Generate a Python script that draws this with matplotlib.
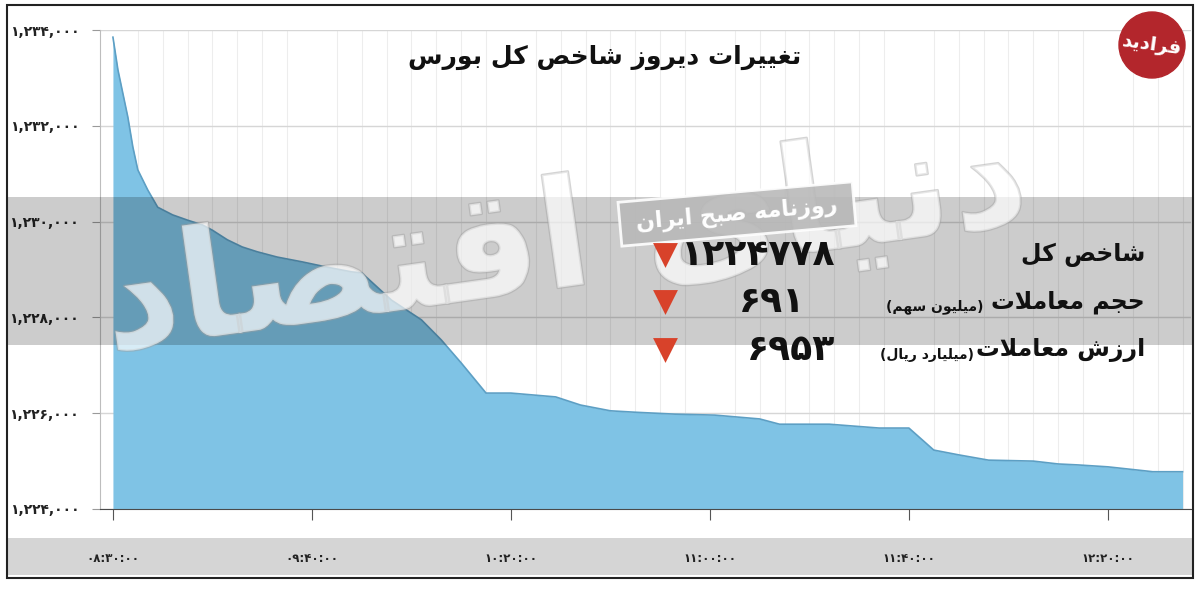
import matplotlib
matplotlib.use('Agg')
import matplotlib.pyplot as plt
import matplotlib.patheffects as pe
from matplotlib.patches import Rectangle, Circle, Polygon
from matplotlib.ticker import FuncFormatter, MultipleLocator
import numpy as np

# minutes since the first tick (08:30) and the index
minutes = [0, 1, 3, 4, 5, 7, 9, 12, 15, 18, 20, 23, 26, 29, 33, 38, 43, 48,
           50, 56, 62, 66, 70, 75, 80, 89, 94, 100, 105, 113, 121, 130, 134,
           144, 154, 160, 165, 170, 176, 185, 190, 194, 200, 208, 209, 215]
index_values = [1233850, 1233170, 1232180, 1231560, 1231080, 1230660, 1230300,
                1230140, 1230030, 1229930, 1229820, 1229620, 1229470, 1229370,
                1229260, 1229160, 1229050, 1228950, 1228930, 1228360, 1227950,
                1227530, 1227050, 1226420, 1226420, 1226340, 1226170, 1226050,
                1226020, 1225980, 1225960, 1225880, 1225770, 1225770, 1225690,
                1225690, 1225230, 1225130, 1225020, 1225000, 1224940, 1224920,
                1224880, 1224790, 1224778, 1224778]

x_tick_minutes = [0, 40, 80, 120, 160, 200]
x_tick_labels = ['08:30:00', '09:40:00', '10:20:00', '11:00:00', '11:40:00', '12:20:00']
y_ticks = [1224000, 1226000, 1228000, 1230000, 1232000, 1234000]

title = 'تغییرات دیروز شاخص کل بورس'
summary_names = ['شاخص کل', 'حجم معاملات', 'ارزش معاملات']
summary_units = ['', '(میلیون سهم)', '(میلیارد ریال)']
summary_values = ['1224778', '691', '6953']
source = 'روزنامه صبح ایران'
watermark = 'دنیای اقتصاد'
logo = 'فرادید'

# --- minimal arabic/persian shaping (matplotlib has no text shaping) ---
FORMS = {
    'ا': (0xFE8D, 0xFE8E), 'آ': (0xFE81, 0xFE82), 'د': (0xFEA9, 0xFEAA),
    'ذ': (0xFEAB, 0xFEAC), 'ر': (0xFEAD, 0xFEAE), 'ز': (0xFEAF, 0xFEB0),
    'ژ': (0xFB8A, 0xFB8B), 'و': (0xFEED, 0xFEEE),
    'ب': (0xFE8F, 0xFE90, 0xFE91, 0xFE92), 'پ': (0xFB56, 0xFB57, 0xFB58, 0xFB59),
    'ت': (0xFE95, 0xFE96, 0xFE97, 0xFE98), 'ج': (0xFE9D, 0xFE9E, 0xFE9F, 0xFEA0),
    'ح': (0xFEA1, 0xFEA2, 0xFEA3, 0xFEA4), 'خ': (0xFEA5, 0xFEA6, 0xFEA7, 0xFEA8),
    'س': (0xFEB1, 0xFEB2, 0xFEB3, 0xFEB4), 'ش': (0xFEB5, 0xFEB6, 0xFEB7, 0xFEB8),
    'ص': (0xFEB9, 0xFEBA, 0xFEBB, 0xFEBC), 'ع': (0xFEC9, 0xFECA, 0xFECB, 0xFECC),
    'غ': (0xFECD, 0xFECE, 0xFECF, 0xFED0), 'ف': (0xFED1, 0xFED2, 0xFED3, 0xFED4),
    'ق': (0xFED5, 0xFED6, 0xFED7, 0xFED8), 'ک': (0xFB8E, 0xFB8F, 0xFB90, 0xFB91),
    'ل': (0xFEDD, 0xFEDE, 0xFEDF, 0xFEE0), 'م': (0xFEE1, 0xFEE2, 0xFEE3, 0xFEE4),
    'ن': (0xFEE5, 0xFEE6, 0xFEE7, 0xFEE8), 'ه': (0xFEE9, 0xFEEA, 0xFEEB, 0xFEEC),
    'ی': (0xFBFC, 0xFBFD, 0xFBFE, 0xFBFF),
}
MIRROR = {'(': ')', ')': '('}


def shape(text):
    out = []
    i, n = 0, len(text)
    while i < n:
        c = text[i]
        if c not in FORMS:
            out.append(MIRROR.get(c, c))
            i += 1
            continue
        prev = text[i - 1] if i > 0 else ''
        joins_prev = prev in FORMS and len(FORMS[prev]) == 4
        if c == 'ل' and i + 1 < n and text[i + 1] == 'ا':
            out.append(chr(0xFEFC if joins_prev else 0xFEFB))
            i += 2
            continue
        nxt = text[i + 1] if i + 1 < n else ''
        joins_next = len(FORMS[c]) == 4 and nxt in FORMS
        f = FORMS[c]
        if joins_prev and joins_next:
            g = f[3]
        elif joins_prev:
            g = f[1]
        elif joins_next:
            g = f[2]
        else:
            g = f[0]
        out.append(chr(g))
        i += 1
    return ''.join(reversed(out))


FA_DIGITS = str.maketrans('0123456789', '۰۱۲۳۴۵۶۷۸۹')


def fa(s):
    return s.translate(FA_DIGITS)


plt.rcParams['font.family'] = ['DejaVu Sans']

W, H = 1200, 589
fig = plt.figure(figsize=(W / 100, H / 100), dpi=100)

# bottom gray strip behind the time labels
fig.add_artist(Rectangle((7 / W, 1 - 575 / H), 1186 / W, 37 / H,
                         transform=fig.transFigure, color='#d5d5d5', lw=0, zorder=-1))

ax = fig.add_axes([100 / W, 1 - 509 / H, 1091 / W, 479 / H])
ax.fill_between(minutes, index_values, 1224000, color='#7fc3e5', lw=0, zorder=2)
ax.plot(minutes, index_values, color='#5d9fc4', lw=1.2, zorder=3)
ax.set_xlim(-2.6, 216.7)
ax.set_ylim(1224000, 1234000)

ax.set_yticks(y_ticks)
ax.yaxis.set_major_formatter(FuncFormatter(lambda v, p: fa(f'{int(v):,}')))
ax.set_xticks(x_tick_minutes)
ax.set_xticklabels([fa(s) for s in x_tick_labels])
ax.xaxis.set_minor_locator(MultipleLocator(5))

ax.grid(axis='y', which='major', color='#d6d6d6', lw=1)
ax.grid(axis='x', which='minor', color='#ededed', lw=0.8)
ax.set_axisbelow(True)

for s in ['top', 'right']:
    ax.spines[s].set_visible(False)
ax.spines['left'].set_color('#bdbdbd')
ax.spines['bottom'].set_color('#4a4a4a')

ax.tick_params(axis='y', length=6, color='#9a9a9a', pad=9, labelsize=10, labelcolor='#222222')
ax.tick_params(axis='x', which='major', length=8, color='#555555', pad=23,
               labelsize=8.5, labelcolor='#222222')
ax.tick_params(axis='x', which='minor', length=0)
for lab in ax.get_yticklabels() + ax.get_xticklabels():
    lab.set_fontweight('bold')

# overlay in pixel coordinates for the decorations
ov = fig.add_axes([0, 0, 1, 1], zorder=5)
ov.set_xlim(0, W)
ov.set_ylim(H, 0)
ov.axis('off')
ov.patch.set_alpha(0)

ov.add_patch(Rectangle((7, 197), 1186, 148, color='black', alpha=0.2, lw=0, zorder=1))

ov.text(565, 245, shape(watermark), fontsize=108, fontweight='bold', rotation=8,
        ha='center', va='center', color='white', alpha=0.45, zorder=2,
        path_effects=[pe.withStroke(linewidth=1.8, foreground='#a0a0a0')])

ov.text(605, 57, shape(title), ha='center', va='center', fontsize=18,
        fontweight='bold', color='#111111', zorder=4)

# source stamp
cx, cy, bw, bh, th = 737, 214, 235, 44, np.radians(5)
corners = []
for dx, dy in [(-bw / 2, -bh / 2), (bw / 2, -bh / 2), (bw / 2, bh / 2), (-bw / 2, bh / 2)]:
    corners.append((cx + dx * np.cos(th) + dy * np.sin(th), cy - dx * np.sin(th) + dy * np.cos(th)))
ov.add_patch(Polygon(corners, closed=True, fc='#b9b9b9', ec='white', lw=2, alpha=0.9, zorder=3))
ov.text(cx, cy, shape(source), rotation=5, rotation_mode='anchor', ha='center', va='center',
        fontsize=16, fontweight='bold', color='white', zorder=4)

rows_y = [255, 302, 350]
value_right = [835, 805, 835]
unit_right = [0, 984, 974]
for name, unit, val, y, vx, ux in zip(summary_names, summary_units, summary_values,
                                      rows_y, value_right, unit_right):
    ov.text(1145, y, shape(name), ha='right', va='center', fontsize=17,
            fontweight='bold', color='#111111', zorder=4)
    if unit:
        ov.text(ux, y + 5, shape(unit), ha='right', va='center', fontsize=10,
                fontweight='bold', color='#111111', zorder=4)
    ov.text(vx, y, fa(val), ha='right', va='center', fontsize=26,
            fontweight='bold', color='#111111', zorder=4)
ov.scatter([665] * 3, rows_y, marker='v', s=320, color='#d8422a', lw=0, zorder=4)

# logo
ov.add_patch(Circle((1152, 45), 33, color='#b3262c', zorder=4))
ov.text(1152, 45, shape(logo), ha='center', va='center', fontsize=14,
        fontweight='bold', color='white', rotation=-8, zorder=5)

# outer frame
fig.add_artist(Rectangle((7 / W, 1 - 578 / H), 1186 / W, 573 / H, transform=fig.transFigure,
                         fill=False, ec='#222222', lw=1.5, zorder=10))

fig.savefig('out.png', dpi=100)
